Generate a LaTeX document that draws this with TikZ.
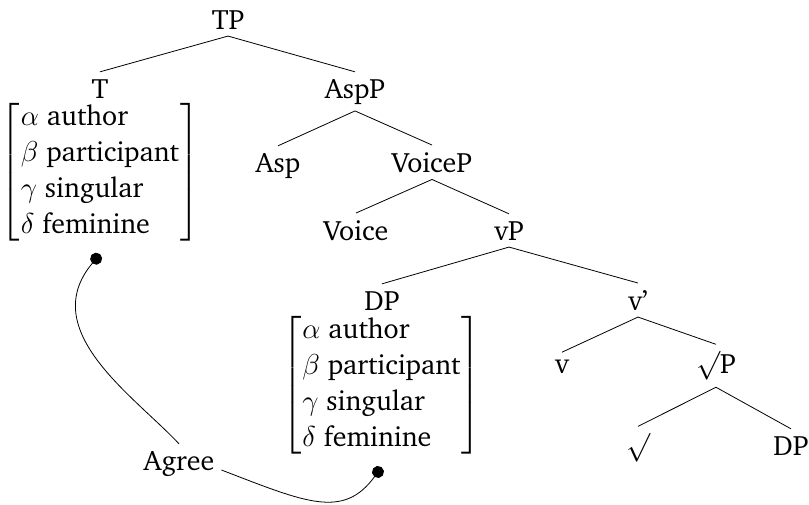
\documentclass[tikz,border=0pt]{standalone}
\usepackage{amsmath}
\usepackage[T1]{fontenc}
\usepackage{charter}
\usetikzlibrary{arrows.meta}

% feature bundle: a bracketed list of left-aligned rows
\newcommand{\featlist}{\left[\begin{array}{@{\hspace{0.5pt}}l@{\hspace{0.5pt}}}
  \alpha\ \text{author}\\
  \beta\ \text{participant}\\
  \gamma\ \text{singular}\\
  \delta\ \text{feminine}
\end{array}\right]}

\begin{document}
\begin{tikzpicture}[x=0.5pt,y=-0.5pt,
  every node/.style={font=\fontsize{14}{18}\selectfont},
  lbl/.style={anchor=base},
  feat/.style={inner sep=4.6pt}]
\useasboundingbox (0,0) rectangle (809,504);

% tree labels, placed on their baselines
\node[lbl] (tp)    at (228,29)  {TP};
\node[lbl] (t)     at (100,98)  {T};
\node[lbl] (aspp)  at (355,98)  {AspP};
\node[lbl] (asp)   at (278,172) {Asp};
\node[lbl] (voicep) at (432,172) {VoiceP};
\node[lbl] (voice) at (356,240) {Voice};
\node[lbl] (vp)    at (509,240) {vP};
\node[lbl] (dp)    at (382,310) {DP};
\node[lbl] (vbar)  at (638,310) {v'};
\node[lbl] (v)     at (562,373) {v};
\node[lbl] (rootp) at (716,373) {$\surd$P};
\node[lbl] (root)  at (638,455) {$\surd$};
\node[lbl] (dp2)   at (791,455) {DP};
\node[lbl] (agree) at (179,470) {Agree};

% feature bundles under T and the subject DP
\node[feat] (tf) at (100,172.5) {$\featlist$};
\node[feat] (df) at (381.5,385.5) {$\featlist$};

% branches
\draw (tp.south) -- (t.north);
\draw (tp.south) -- (aspp.north);
\draw (aspp.south) -- (asp.north);
\draw (aspp.south) -- (voicep.north);
\draw (voicep.south) -- (voice.north);
\draw (voicep.south) -- (vp.north);
\draw (vp.south) -- (dp.north);
\draw (vp.south) -- (vbar.north);
\draw (vbar.south) -- (v.north);
\draw (vbar.south) -- (rootp.north);
\draw (rootp.south) -- (root.north);
\draw (rootp.south) -- (dp2.north);

% the Agree relation linking the two bundles
\draw[{Circle[length=6pt]}-] (tf.south) .. controls +(-130:50pt) and +(133:32.5pt) .. (agree.north);
\draw[-{Circle[length=6pt]}] (agree.base east) .. controls +(-21:45pt) and +(-126:32.5pt) .. (df.south);
\end{tikzpicture}
\end{document}
